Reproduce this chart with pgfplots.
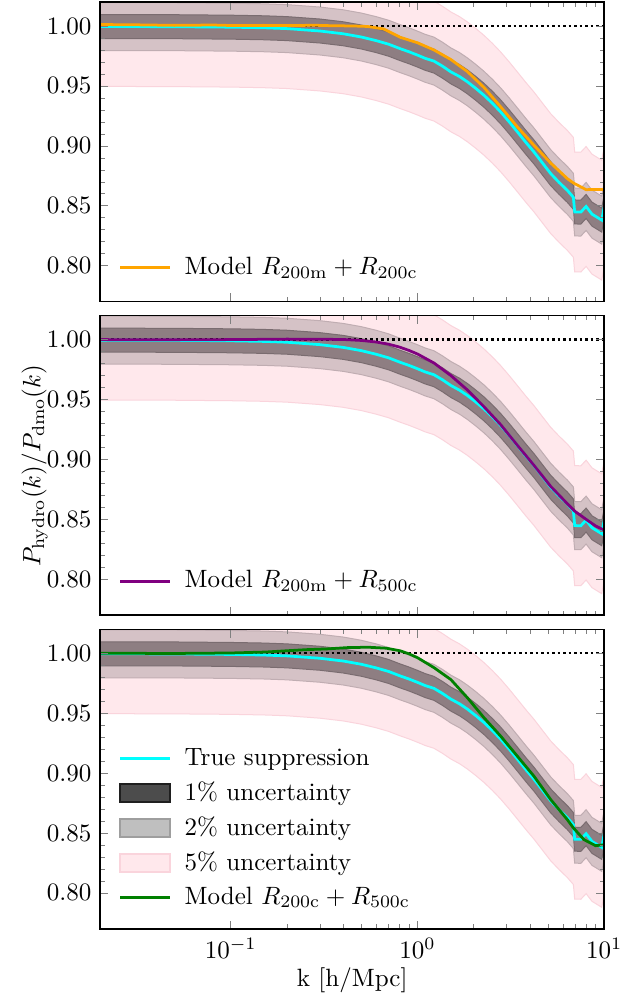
\documentclass[border=0pt]{standalone}
\usepackage{pgfplots}
\pgfplotsset{compat=1.18}
\usepackage{pgfplotstable}

\definecolor{pinkfill}{RGB}{255,232,236}
\definecolor{pinkedge}{RGB}{250,212,220}
\definecolor{twofill}{RGB}{213,194,198}
\definecolor{twoedge}{RGB}{192,173,178}
\definecolor{onefill}{RGB}{142,126,130}
\definecolor{oneedge}{RGB}{122,108,112}
\definecolor{cyanline}{RGB}{0,255,255}
\definecolor{orangeline}{RGB}{255,165,0}
\definecolor{purpleline}{RGB}{128,0,128}
\definecolor{greenline}{RGB}{0,128,0}

\pgfplotstableread{
k s
0.020 0.9995
0.030 0.9995
0.050 0.9994
0.070 0.9992
0.100 0.9990
0.150 0.9985
0.200 0.9978
0.300 0.9958
0.400 0.9935
0.500 0.9908
0.600 0.9878
0.700 0.9848
0.810 0.9810
0.900 0.9785
1.000 0.9757
1.100 0.9730
1.225 0.9707
1.360 0.9665
1.510 0.9617
1.680 0.9578
1.850 0.9534
2.050 0.9480
2.270 0.9422
2.520 0.9355
2.790 0.9283
3.100 0.9200
3.430 0.9116
3.800 0.9030
4.210 0.8948
4.680 0.8855
5.170 0.8768
5.730 0.8695
6.350 0.8628
6.840 0.8570
6.950 0.8448
7.500 0.8447
8.000 0.8494
8.600 0.8430
9.700 0.8380
10.00 0.8490
}\truedata

\pgfplotstableread{
k m
0.020 1.0012
0.030 1.0010
0.050 1.0005
0.080 1.0008
0.100 1.0004
0.150 1.0005
0.200 1.0003
0.280 1.0006
0.350 1.0002
0.450 1.0000
0.540 0.9996
0.660 0.9975
0.810 0.9905
1.000 0.9860
1.225 0.9800
1.510 0.9720
1.850 0.9620
2.270 0.9487
2.790 0.9325
3.430 0.9157
4.210 0.9004
5.170 0.8856
6.350 0.8726
6.840 0.8690
8.000 0.8634
9.000 0.8636
10.00 0.8634
}\orangedata

\pgfplotstableread{
k m
0.020 1.0000
0.050 0.9998
0.100 1.0000
0.200 1.0004
0.300 1.0003
0.400 1.0001
0.500 0.9993
0.600 0.9980
0.700 0.9962
0.800 0.9938
0.900 0.9910
1.000 0.9880
1.225 0.9805
1.510 0.9700
1.850 0.9580
2.270 0.9440
2.790 0.9290
3.430 0.9118
4.210 0.8950
5.170 0.8775
6.350 0.8630
7.000 0.8565
8.000 0.8500
9.000 0.8445
10.00 0.8410
}\purpledata

\pgfplotstableread{
k m
0.020 1.0000
0.050 0.9998
0.100 1.0002
0.154 1.0010
0.197 1.0020
0.255 1.0030
0.328 1.0036
0.423 1.0047
0.545 1.0050
0.680 1.0042
0.810 1.0020
0.900 0.9995
1.000 0.9963
1.225 0.9880
1.510 0.9780
1.850 0.9629
2.270 0.9462
2.790 0.9308
3.430 0.9140
4.210 0.8973
5.170 0.8779
6.350 0.8611
6.840 0.8542
7.800 0.8444
9.000 0.8394
10.00 0.8402
}\greendata

\newcommand{\bandfill}[2]{\addplot[fill=#2, draw=none, forget plot] table[x=k, y expr=\thisrow{s}#1]{\truedata} \closedcycle;}
\newcommand{\bandedge}[2]{\addplot[#2, line width=0.4pt, forget plot] table[x=k, y expr=\thisrow{s}#1]{\truedata};}

\newcommand{\bands}{%
  \bandfill{+0.05}{pinkfill}
  \bandfill{+0.02}{twofill}
  \bandfill{+0.01}{onefill}
  \bandfill{-0.01}{twofill}
  \bandfill{-0.02}{pinkfill}
  \bandfill{-0.05}{white}
  \bandedge{+0.05}{pinkedge}
  \bandedge{-0.05}{pinkedge}
  \bandedge{+0.02}{twoedge}
  \bandedge{-0.02}{twoedge}
  \bandedge{+0.01}{oneedge}
  \bandedge{-0.01}{oneedge}
  \addplot[black, line width=1pt, dash pattern=on 1pt off 1.2pt, forget plot] coordinates {(0.02,1) (10,1)};
  \addplot[cyanline, line width=1.1pt, forget plot] table[x=k, y=s]{\truedata};
}

\newcommand{\lineleg}[1]{\addlegendimage{legend image code/.code={\draw[#1, line width=1.1pt] (0pt,0pt) -- (20pt,0pt);}}}
\newcommand{\patchleg}[2]{\addlegendimage{legend image code/.code={\draw[fill=#1, draw=#2, line width=0.8pt] (0pt,-3.6pt) rectangle (20pt,3.6pt);}}}

\begin{document}
\begin{tikzpicture}
\path[use as bounding box] (-40pt,-29.2pt) rectangle (215.6pt,370.8pt);

% top panel
\begin{axis}[
    xmode=log,
    xmin=0.02, xmax=10, ymin=0.77, ymax=1.02,
    scale only axis, width=201.2pt, height=119.6pt,
    at={(0pt,250.4pt)},
    xtick={0.1,1,10}, xticklabels={},
    ytick={0.80,0.85,0.90,0.95,1.00},
    minor y tick num=4,
    yticklabel style={/pgf/number format/fixed,/pgf/number format/fixed zerofill,/pgf/number format/precision=2},
    tick align=inside, xtick pos=both, ytick pos=both,
    major tick length=3.3pt, minor tick length=1.8pt,
    axis line style={line width=0.6pt},
    axis on top,
    legend cell align=left,
    legend style={draw=none, fill=none, at={(0.036,0.06)}, anchor=south west, inner sep=0pt, row sep=1pt, font=\normalsize,
      /tikz/every odd column/.style={column sep=3.2pt}},
  ]
\bands
\addplot[orangeline, line width=1.1pt, forget plot] table[x=k, y=m]{\orangedata};
\lineleg{orangeline}
\addlegendentry{Model $R_{\rm 200m} + R_{\rm 200c}$}
\end{axis}

% middle panel
\begin{axis}[
    xmode=log,
    xmin=0.02, xmax=10, ymin=0.77, ymax=1.02,
    scale only axis, width=201.2pt, height=119.6pt,
    at={(0pt,125.2pt)},
    xtick={0.1,1,10}, xticklabels={},
    ytick={0.80,0.85,0.90,0.95,1.00},
    minor y tick num=4,
    yticklabel style={/pgf/number format/fixed,/pgf/number format/fixed zerofill,/pgf/number format/precision=2},
    tick align=inside, xtick pos=both, ytick pos=both,
    major tick length=3.3pt, minor tick length=1.8pt,
    axis line style={line width=0.6pt},
    axis on top,
    legend cell align=left,
    legend style={draw=none, fill=none, at={(0.036,0.06)}, anchor=south west, inner sep=0pt, row sep=1pt, font=\normalsize,
      /tikz/every odd column/.style={column sep=3.2pt}},
    ylabel={$P_{\rm hydro}(k)/P_{\rm dmo}(k)$},
    ylabel style={at={(axis description cs:-0.13,0.5)}, anchor=center},
  ]
\bands
\addplot[purpleline, line width=1.1pt, forget plot] table[x=k, y=m]{\purpledata};
\lineleg{purpleline}
\addlegendentry{Model $R_{\rm 200m} + R_{\rm 500c}$}
\end{axis}

% bottom panel
\begin{axis}[
    xmode=log,
    xmin=0.02, xmax=10, ymin=0.77, ymax=1.02,
    scale only axis, width=201.2pt, height=119.6pt,
    at={(0pt,0pt)},
    xtick={0.1,1,10},
    ytick={0.80,0.85,0.90,0.95,1.00},
    minor y tick num=4,
    yticklabel style={/pgf/number format/fixed,/pgf/number format/fixed zerofill,/pgf/number format/precision=2},
    tick align=inside, xtick pos=both, ytick pos=both,
    major tick length=3.3pt, minor tick length=1.8pt,
    axis line style={line width=0.6pt},
    axis on top,
    legend cell align=left,
    legend style={draw=none, fill=none, at={(0.036,0.052)}, anchor=south west, inner sep=0pt, row sep=1pt, font=\normalsize,
      /tikz/every odd column/.style={column sep=3.2pt}},
    xlabel={k [h/Mpc]},
    xlabel style={at={(axis description cs:0.5,-0.171)}, anchor=center},
  ]
\bands
\addplot[greenline, line width=1.1pt, forget plot] table[x=k, y=m]{\greendata};
\lineleg{cyanline}
\addlegendentry{True suppression}
\patchleg{black!70}{black!88}
\addlegendentry{1\% uncertainty}
\patchleg{black!25}{black!38}
\addlegendentry{2\% uncertainty}
\patchleg{pinkfill}{pinkedge}
\addlegendentry{5\% uncertainty}
\lineleg{greenline}
\addlegendentry{Model $R_{\rm 200c} + R_{\rm 500c}$}
\end{axis}
\end{tikzpicture}
\end{document}
